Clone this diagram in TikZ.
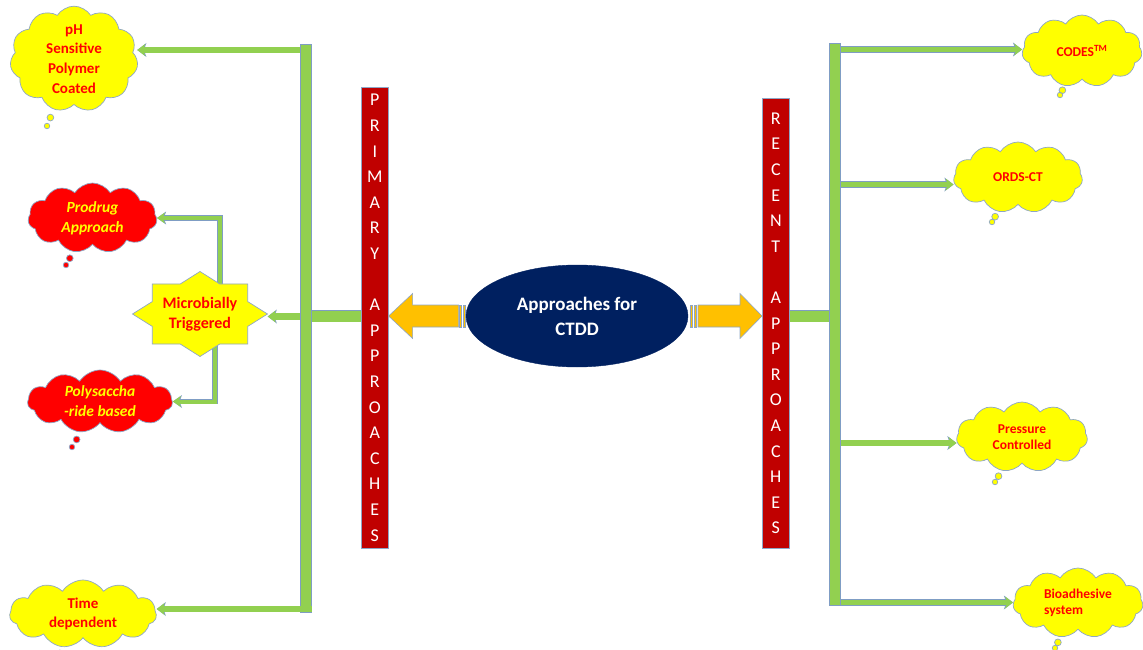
\documentclass[tikz,border=0pt]{standalone}
\usepackage{fontspec}
\setmainfont{Carlito}
\usetikzlibrary{shapes.symbols,shapes.callouts,shapes.geometric,arrows.meta,calc}
\definecolor{gfill}{HTML}{92D050}
\definecolor{gedge}{HTML}{7F9DC4}
\definecolor{cyel}{HTML}{FFFF00}
\definecolor{cred}{HTML}{FF0000}
\definecolor{barred}{HTML}{C00000}
\definecolor{navy}{HTML}{002060}
\definecolor{amber}{HTML}{FFC000}
\definecolor{cedge}{HTML}{8EA6C6}
\begin{document}
\begin{tikzpicture}[x=1pt,y=-1pt,
  cloudbase/.style={cloud callout, cloud puffs=11, cloud puff arc=115, cloud ignores aspect,
    draw=cedge, line width=0.7pt, inner sep=0pt, align=center,
    callout pointer segments=2, callout pointer start size=8pt,
    callout pointer end size=5.5pt},
  ycloud/.style={cloudbase, fill=cyel, text=cred},
  rcloud/.style={cloudbase, fill=cred, text=cyel, font=\bfseries\itshape\fontsize{15.5}{20}\selectfont},
  lfont/.style={font=\bfseries\fontsize{15}{19.7}\selectfont},
  rfont/.style={font=\bfseries\fontsize{13.5}{16.5}\selectfont},
  redbar/.style={rectangle, fill=barred, draw=cedge, line width=0.6pt, minimum width=27pt,
    inner sep=0pt, text=white, align=center, font=\fontsize{18}{25.6}\selectfont},
  gbar/.style={rectangle, fill=gfill, draw=gedge, line width=0.6pt, inner sep=0pt},
  glink/.style={draw=gfill, line width=11pt, preaction={draw=gedge, line width=12.2pt}},
  garr/.style={draw=gfill, line width=5.5pt,
    -{Stealth[length=8pt,width=12pt,inset=2.5pt,line width=0pt]},
    preaction={draw=gedge, line width=6.7pt, -{Stealth[length=9.2pt,width=14pt,inset=2.5pt,line width=0pt]}}},
  garrthin/.style={draw=gfill, line width=4pt,
    -{Stealth[length=8pt,width=11pt,inset=2.5pt,line width=0pt]},
    preaction={draw=gedge, line width=5.2pt, -{Stealth[length=9.2pt,width=13pt,inset=2.5pt,line width=0pt]}}},
  yarr/.style={fill=amber, draw=cedge, line width=0.6pt, line join=miter},
  starsty/.style={fill=cyel, draw=cedge, line width=0.7pt, line join=miter}
]
\useasboundingbox (0,0) rectangle (1143,650);

% ---- clouds, left
\node[ycloud, lfont, minimum width=128pt, minimum height=88pt, callout absolute pointer={(47,126)}] (ph) at (74,59) {pH\\Sensitive\\Polymer\\Coated};
\node[rcloud, minimum width=129pt, minimum height=70pt, callout absolute pointer={(66,265)}] (prod) at (92.5,218) {Prodrug\\Approach};
\node[rcloud, minimum width=145pt, minimum height=63pt, callout absolute pointer={(72,447)}] (poly) at (100,401.5) {Polysaccha\\-ride based};
\node[ycloud, lfont, minimum width=147pt, minimum height=68pt, callout absolute pointer={(56,660)}] (time) at (83,614) {Time\\dependent};

% ---- clouds, right
\node[ycloud, rfont, minimum width=120pt, minimum height=72pt, callout absolute pointer={(1060,95)}] (codes) at (1082,51) {CODES\textsuperscript{TM}};
\node[ycloud, rfont, minimum width=129pt, minimum height=71pt, callout absolute pointer={(992,222)}] (ords) at (1018,177.5) {ORDS-CT};
\node[ycloud, rfont, minimum width=131pt, minimum height=70pt, callout absolute pointer={(995,482)}] (press) at (1022,437) {Pressure\\Controlled};
\node[ycloud, rfont, align=left, minimum width=130pt, minimum height=70pt, callout absolute pointer={(1055,648)}] (bio) at (1078,603) {Bioadhesive\\system};

% ---- red bars
\node[redbar, minimum height=461pt, anchor=north west] (pbar) at (361,87)
  {P\\R\\I\\M\\A\\R\\Y\\\phantom{A}\\A\\P\\P\\R\\O\\A\\C\\H\\E\\S};
\node[redbar, minimum height=450pt, anchor=north west] (rbar) at (762,98)
  {R\\E\\C\\E\\N\\T\\\phantom{A}\\A\\P\\P\\R\\O\\A\\C\\H\\E\\S};

% ---- yellow striped arrows
\draw[yarr] (pbar.east |- 0,316) -- ++(24,-22.5) -- ++(0,11.5) -- ++(46,0) -- ++(0,22) -- ++(-46,0) -- ++(0,11.5) -- cycle;
\draw[yarr] (459,305) rectangle ++(2.5,22);
\draw[yarr] (463,305) rectangle ++(2.5,22);
\draw[yarr] (rbar.west |- 0,316) -- ++(-22,-22.5) -- ++(0,11.5) -- ++(-42,0) -- ++(0,22) -- ++(42,0) -- ++(0,11.5) -- cycle;
\draw[yarr] (690,305) rectangle ++(2.5,22);
\draw[yarr] (694,305) rectangle ++(2.5,22);

% ---- central ellipse
\node[ellipse, fill=navy, draw=navy, minimum width=222pt, minimum height=102pt, inner sep=0pt,
  text=white, align=center, font=\bfseries\fontsize{19}{25}\selectfont] (ctdd) at (577,316) {Approaches for\\CTDD};

% ---- green trunks and links
\node[gbar, minimum width=11pt, minimum height=568pt, anchor=north west] (ltrunk) at (300,44) {};
\node[gbar, minimum width=11pt, minimum height=562pt, anchor=north west] (rtrunk) at (829,43) {};
\draw[glink] (pbar.west |- 0,316) -- (ltrunk.east |- 0,316);
\draw[glink] (rbar.east |- 0,316) -- (rtrunk.west |- 0,316);

% ---- star node
\node[rectangle, minimum width=135pt, minimum height=85pt, inner sep=0pt] (micro) at (200,314) {};
\coordinate (mtop) at (220,292);
\coordinate (mbot) at (215,338);
\draw[garrthin] (mtop) |- (prod.east);
\draw[garrthin] (mbot) |- (poly.east);
\draw[starsty] (micro.center) +(0:67.5 and 42.5) -- +(22.5:51.6 and 32.5) -- +(45:67.5 and 42.5)
  -- +(67.5:51.6 and 32.5) -- +(90:67.5 and 42.5) -- +(112.5:51.6 and 32.5) -- +(135:67.5 and 42.5)
  -- +(157.5:51.6 and 32.5) -- +(180:67.5 and 42.5) -- +(202.5:51.6 and 32.5) -- +(225:67.5 and 42.5)
  -- +(247.5:51.6 and 32.5) -- +(270:67.5 and 42.5) -- +(292.5:51.6 and 32.5) -- +(315:67.5 and 42.5)
  -- +(337.5:51.6 and 32.5) -- cycle;
\node[text=cred, align=center, font=\bfseries\fontsize{16}{19.5}\selectfont] (microtxt) at (micro.center) {Microbially\\Triggered};

% ---- green arrows, left
\coordinate (lph) at (ltrunk.west |- 0,50);
\coordinate (ltime) at (ltrunk.east |- 0,609);
\draw[garr] (lph) -- (lph -| ph.east);
\draw[garr] (ltime) -- (ltime -| time.east);
\draw[garr, line width=7pt] (ltrunk.west |- 0,316.5) -- (micro.east |- 0,316.5);

% ---- green arrows, right
\coordinate (rcod) at (rtrunk.east |- 0,49.5);
\coordinate (rord) at (rtrunk.east |- 0,184.5);
\coordinate (rpre) at (rtrunk.east |- 0,443);
\coordinate (rbio) at (rtrunk.east |- 0,602.5);
\draw[garr] (rcod) -- (rcod -| codes.west);
\draw[garr] (rord) -- (rord -| ords.west);
\draw[garr] (rpre) -- (rpre -| press.west);
\draw[garr] (rbio) -- (rbio -| bio.west);
\end{tikzpicture}
\end{document}
